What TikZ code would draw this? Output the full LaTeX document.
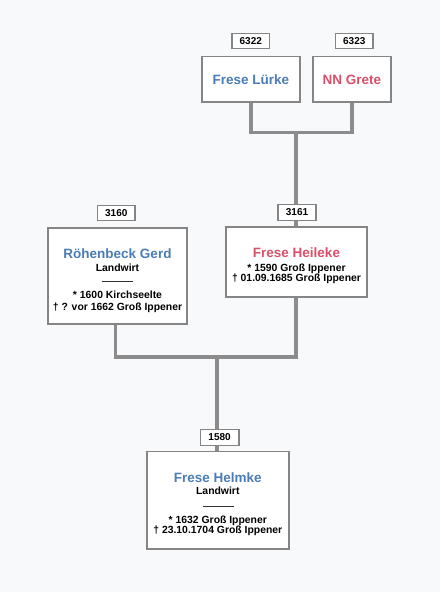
\documentclass[tikz,border=0pt]{standalone}
\usepackage{fontspec}
\setmainfont{Liberation Sans}
\definecolor{bgpaper}{HTML}{F8F9FA}
\definecolor{boxgray}{HTML}{858585}
\definecolor{conn}{HTML}{8C8C8C}
\definecolor{nameblue}{HTML}{4A7DB6}
\definecolor{namered}{HTML}{D9506A}
\begin{document}
\begin{tikzpicture}[x=1pt,y=-1pt,
  box/.style={draw=boxgray, line width=1.2pt, fill=white, rectangle, inner sep=0pt},
  idbox/.style={box, minimum height=15.5pt, minimum width=37.5pt,
    font=\fontsize{10}{12}\selectfont\bfseries},
  link/.style={draw=conn, line width=3.8pt},
  nm/.style={font=\fontsize{13.5}{15}\selectfont\bfseries, anchor=base, inner sep=0pt},
  sm/.style={font=\fontsize{10.4}{12}\selectfont\bfseries, anchor=base, inner sep=0pt},
  sep/.style={draw=black!80, line width=0.7pt}]
\fill[bgpaper] (0,0) rectangle (440,592);
\useasboundingbox (0,0) rectangle (440,592);

% id boxes
\node[idbox] (id6322) at (250.8,41) {6322};
\node[idbox] (id6323) at (354.3,41) {6323};
\node[idbox] (id3160) at (116.3,213) {3160};
\node[idbox] (id3161) at (297,212.5) {3161};
\node[idbox] (id1580) at (219.6,437.5) {1580};

% person boxes
\node[box, minimum width=97pt, minimum height=45pt] (lurke) at (250.8,79.2) {};
\node[box, minimum width=77.4pt, minimum height=45pt] (grete) at (352,79.2) {};
\node[box, minimum width=139pt, minimum height=95pt] (gerd) at (117.5,275.8) {};
\node[box, minimum width=141pt, minimum height=69pt] (heileke) at (296.5,262) {};
\node[box, minimum width=141pt, minimum height=96.6pt] (helmke) at (217.8,500) {};

% connectors
\coordinate (j1) at (296,132.5);
\coordinate (j2) at (217,357);
\draw[link] (lurke.south) -- (lurke.south |- j1) -- (grete.south |- j1) -- (grete.south);
\draw[link] (j1) -- (j1 |- id3161.north);
\draw[link] (j1 |- id3161.south) -- (j1 |- heileke.north);
\draw[link] (115.5,0 |- gerd.south) -- (115.5,0 |- j2) -- (j1 |- j2) -- (j1 |- heileke.south);
\draw[link] (j2) -- (j2 |- id1580.north);
\draw[link] (j2 |- id1580.south) -- (j2 |- helmke.north);

% redraw borders over connector ends
\foreach \n in {lurke,grete,gerd,heileke,helmke,id3161,id1580}{
  \draw[boxgray, line width=1.2pt] (\n.north west) rectangle (\n.south east);}

% texts
\node[nm, text=nameblue] (tlurke) at (250.8,84.5) {Frese Lürke};
\node[nm, text=namered] (tgrete) at (352,84.5) {NN Grete};

\node[nm, text=nameblue] (tgerd) at (117.5,258.8) {Röhenbeck Gerd};
\node[sm] (tgerd1) at (117.5,271.5) {Landwirt};
\draw[sep] (101.7,281) -- (133.3,281);
\node[sm] (tgerd2) at (117.5,298.8) {* 1600 Kirchseelte};
\node[sm] (tgerd3) at (117.5,310.5) {† ? vor 1662 Groß Ippener};

\node[nm, text=namered] (theil) at (296.5,257.3) {Frese Heileke};
\node[sm] (theil1) at (296.5,271.2) {* 1590 Groß Ippener};
\node[sm] (theil2) at (296.5,281.2) {† 01.09.1685 Groß Ippener};

\node[nm, text=nameblue] (thelm) at (217.8,482.3) {Frese Helmke};
\node[sm] (thelm1) at (217.8,494.7) {Landwirt};
\draw[sep] (203.3,506) -- (234,506);
\node[sm] (thelm2) at (217.8,523.2) {* 1632 Groß Ippener};
\node[sm] (thelm3) at (217.8,533.8) {† 23.10.1704 Groß Ippener};
\end{tikzpicture}
\end{document}
